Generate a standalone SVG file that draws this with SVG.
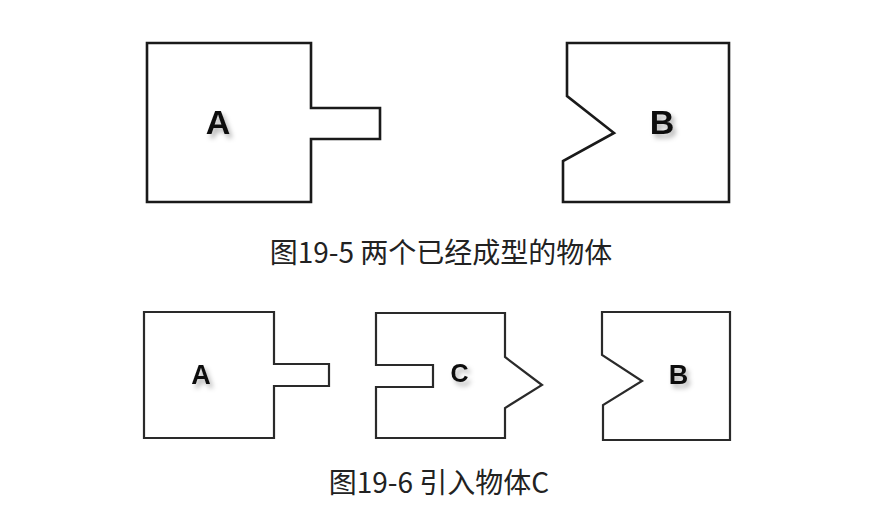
<svg xmlns="http://www.w3.org/2000/svg" width="890" height="515" viewBox="0 0 890 515">
<style>
.shape{fill:none;stroke:#1a1a1a;stroke-linejoin:miter}
.big{stroke-width:2.6}
.small{stroke-width:2.2;stroke:#2a2a2a}
.lbl{font-family:"Liberation Sans",Arial,sans-serif;font-weight:bold;fill:#111;text-anchor:middle;filter:url(#sh)}
.cap{font-family:"Noto Sans CJK SC","Noto Sans",sans-serif;fill:#222;text-anchor:middle;font-size:28px}
</style>
<defs>
<filter id="sh" x="-50%" y="-50%" width="200%" height="200%">
<feDropShadow dx="3" dy="4" stdDeviation="2.5" flood-color="#000" flood-opacity="0.3"/>
</filter>
</defs>
<g id="A1">
<path class="shape big" d="M147,43 H311 V108 H380 V139 H311 V202 H147 Z"/>
<text class="lbl" x="218" y="134" font-size="34">A</text>
</g>
<g id="B1">
<path class="shape big" d="M567,43 H729 V202 H563 V161 L614,133 L567,96 Z"/>
<text class="lbl" x="662" y="134" font-size="34">B</text>
</g>
<text id="cap1" class="cap" x="441" y="263">图19-5 两个已经成型的物体</text>
<g id="A2">
<path class="shape small" d="M144,312 H274 V364 H329 V386 H274 V438 H144 Z"/>
<text class="lbl" x="201" y="384" font-size="27">A</text>
</g>
<g id="C">
<path class="shape small" d="M376,313 H505 V357 L542,385 L505,408 V438 H376 V387 H433 V365 H376 Z"/>
<text class="lbl" x="459.5" y="382" font-size="25">C</text>
</g>
<g id="B2">
<path class="shape small" d="M602,312 H730 V440 H603 V405 L642,381 L602,355 Z"/>
<text class="lbl" x="678.5" y="384" font-size="27">B</text>
</g>
<text id="cap2" class="cap" x="439" y="493">图19-6 引入物体C</text>
<g id="connectors"/>
</svg>
